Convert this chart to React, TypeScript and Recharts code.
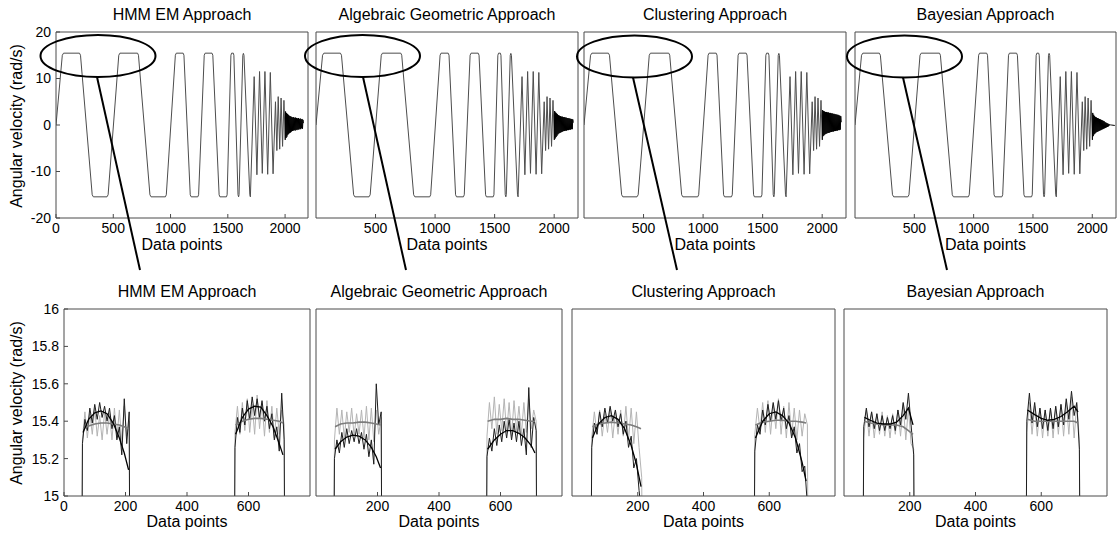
import React from 'react';
import { LineChart, Line, XAxis, YAxis } from 'recharts';

// ---------- top row: full sweep (shared), per-method tail ----------
const SWEEP_X = [
  0, 55, 66, 205, 214, 316, 326, 445, 455, 548, 558, 712, 720, 820, 830, 955, 963,
  1042, 1050, 1110, 1117, 1172, 1180, 1238, 1245, 1294, 1302, 1362, 1369, 1424, 1431,
  1488, 1494, 1527, 1533, 1548, 1553, 1589, 1594, 1598, 1631, 1636, 1641, 1692, 1697,
  1730, 1754, 1777, 1801, 1824, 1848, 1871, 1895, 1916, 1928, 1940, 1953, 1965, 1978,
  1990, 2001,
];
const SWEEP_Y = [
  0, 15.0, 15.45, 15.45, 15.0, -15.0, -15.45, -15.45, -15.0, 15.0, 15.45, 15.45, 15.0,
  -15.0, -15.45, -15.45, -15.0, 15.0, 15.45, 15.45, 15.0, -15.0, -15.45, -15.45, -15.0,
  15.0, 15.45, 15.45, 15.0, -15.0, -15.45, -15.45, -15.0, 15.0, 15.45, 15.45, 15.0,
  -15.0, -15.45, -15.0, 15.0, 15.4, 15.0, -15.0, -15.45, 10.4, -10.7, 11.5, -10.4,
  11.5, -10.6, 11.3, -10.5, 5.0, -5.5, 6.1, -5.2, 5.8, -4.6, 5.3, -3.2,
];

const TAIL_X = [
  2001, 2004, 2008, 2012, 2016, 2020, 2024, 2028, 2032, 2036, 2040, 2044, 2048, 2052,
  2056, 2060, 2064, 2068, 2072, 2076, 2080, 2084, 2088, 2092, 2096, 2100, 2104, 2108,
  2112, 2116, 2120, 2124, 2128, 2132, 2136, 2140, 2144, 2148, 2152, 2156, 2160,
];
const TAIL_HMM = [
  -3.2, 2.9, -2.8, 2.6, -2.5, 2.4, -2.1, 2.2, -1.9, 2.0, -1.7, 1.9, -1.6, 1.8, -1.4,
  1.7, -1.3, 1.6, -1.2, 1.7, -1.1, 1.5, -1.2, 1.6, -1.0, 1.5, -1.1, 1.4, -0.9, 1.5,
  -1.0, 1.3, -0.8, 1.4, -0.9, 1.2, -0.7, 1.3, -0.8, 1.1, 0.4,
];
const TAIL_ALG = [
  -3.2, 3.0, -2.9, 2.7, -2.6, 2.5, -2.3, 2.3, -2.0, 2.1, -1.8, 2.0, -1.7, 1.9, -1.6,
  1.8, -1.5, 1.8, -1.4, 1.7, -1.3, 1.7, -1.3, 1.6, -1.2, 1.6, -1.2, 1.5, -1.1, 1.5,
  -1.1, 1.4, -1.0, 1.4, -1.0, 1.3, -0.9, 1.3, -0.9, 1.2, 0.5,
];
const TAIL_CLU = [
  -3.2, 3.2, -2.4, 3.0, -2.2, 2.9, -2.0, 2.8, -1.9, 2.8, -1.8, 2.7, -1.7, 2.7, -1.7,
  2.6, -1.6, 2.6, -1.5, 2.5, -1.5, 2.5, -1.4, 2.4, -1.4, 2.4, -1.3, 2.3, -1.3, 2.3,
  -1.2, 2.2, -1.2, 2.2, -1.1, 2.1, -1.1, 2.0, -1.0, 1.9, 0.6,
];
const BAY_TAIL_X = [...TAIL_X, 2190];
const TAIL_BAY = [
  -3.2, 2.6, -2.4, 2.2, -2.0, 1.9, -1.8, 1.7, -1.6, 1.6, -1.5, 1.5, -1.4, 1.4, -1.3,
  1.3, -1.2, 1.2, -1.1, 1.1, -1.0, 1.0, -0.9, 0.9, -0.8, 0.8, -0.7, 0.6, -0.6, 0.5,
  -0.5, 0.4, -0.4, 0.3, -0.3, 0.2, -0.1, 0.1, 0.0, 0.0, 0.0, -0.1,
];

// ---------- bottom row: zoom on the two top plateaus ----------
const SEG1_X = [58, 60, 68, 76, 84, 92, 100, 108, 116, 124, 132, 140, 148, 156, 164, 172, 180, 188, 196, 204, 212, 214];
const SEG2_X = [554, 556, 564, 572, 580, 588, 596, 604, 612, 620, 628, 636, 644, 652, 660, 668, 676, 684, 692, 700, 708, 716, 718];
const FIT1_X = [62, 80, 100, 120, 140, 160, 180, 196, 210];
const FIT2_X = [558, 580, 600, 620, 640, 660, 680, 700, 712];

const HMM_GRAY_1 = [14.6, 15.30, 15.45, 15.31, 15.44, 15.33, 15.47, 15.32, 15.43, 15.30, 15.45, 15.33, 15.44, 15.30, 15.47, 15.31, 15.46, 15.29, 15.48, 15.32, 15.40, 14.6];
const HMM_BLACK_1 = [14.6, 15.28, 15.41, 15.35, 15.47, 15.39, 15.49, 15.41, 15.50, 15.42, 15.48, 15.40, 15.47, 15.36, 15.43, 15.30, 15.37, 15.22, 15.52, 15.28, 15.45, 14.6];
const HMM_GRAY_2 = [14.6, 15.34, 15.48, 15.33, 15.50, 15.35, 15.52, 15.34, 15.49, 15.33, 15.54, 15.36, 15.50, 15.32, 15.51, 15.34, 15.48, 15.31, 15.47, 15.33, 15.46, 15.38, 14.6];
const HMM_BLACK_2 = [14.6, 15.26, 15.42, 15.34, 15.47, 15.38, 15.51, 15.41, 15.53, 15.43, 15.52, 15.42, 15.51, 15.40, 15.48, 15.36, 15.44, 15.30, 15.37, 15.24, 15.55, 15.30, 14.6];
const HMM_FIT_B1 = [15.34, 15.41, 15.445, 15.455, 15.44, 15.39, 15.31, 15.23, 15.14];
const HMM_FIT_G1 = [15.36, 15.375, 15.385, 15.39, 15.39, 15.385, 15.38, 15.37, 15.36];
const HMM_FIT_B2 = [15.33, 15.42, 15.465, 15.48, 15.475, 15.43, 15.37, 15.28, 15.22];
const HMM_FIT_G2 = [15.38, 15.40, 15.41, 15.415, 15.415, 15.41, 15.405, 15.40, 15.39];

const ALG_GRAY_1 = [14.6, 15.30, 15.47, 15.33, 15.46, 15.31, 15.45, 15.34, 15.47, 15.32, 15.44, 15.33, 15.46, 15.31, 15.48, 15.30, 15.47, 15.29, 15.46, 15.33, 15.42, 14.6];
const ALG_BLACK_1 = [14.6, 15.20, 15.30, 15.23, 15.34, 15.26, 15.36, 15.28, 15.35, 15.29, 15.36, 15.28, 15.34, 15.25, 15.33, 15.21, 15.30, 15.17, 15.60, 15.38, 15.45, 14.6];
const ALG_GRAY_2 = [14.6, 15.32, 15.50, 15.36, 15.53, 15.33, 15.49, 15.35, 15.52, 15.34, 15.50, 15.32, 15.51, 15.35, 15.48, 15.33, 15.50, 15.34, 15.52, 15.36, 15.46, 15.40, 14.6];
const ALG_BLACK_2 = [14.6, 15.21, 15.31, 15.24, 15.36, 15.27, 15.38, 15.29, 15.40, 15.31, 15.41, 15.30, 15.39, 15.29, 15.40, 15.27, 15.36, 15.22, 15.58, 15.26, 15.42, 15.35, 14.6];
const ALG_FIT_B1 = [15.25, 15.29, 15.315, 15.325, 15.32, 15.30, 15.26, 15.21, 15.15];
const ALG_FIT_G1 = [15.37, 15.385, 15.39, 15.39, 15.395, 15.395, 15.39, 15.385, 15.38];
const ALG_FIT_B2 = [15.25, 15.30, 15.33, 15.35, 15.35, 15.335, 15.31, 15.27, 15.23];
const ALG_FIT_G2 = [15.40, 15.41, 15.41, 15.415, 15.41, 15.41, 15.405, 15.40, 15.40];

const CLU_GRAY_1 = [14.6, 15.31, 15.45, 15.33, 15.46, 15.32, 15.44, 15.34, 15.47, 15.31, 15.45, 15.33, 15.46, 15.32, 15.48, 15.30, 15.47, 15.28, 15.45, 15.26, 15.10, 14.6];
const CLU_BLACK_1 = [14.6, 15.26, 15.39, 15.33, 15.45, 15.37, 15.47, 15.39, 15.48, 15.40, 15.46, 15.37, 15.44, 15.33, 15.40, 15.26, 15.32, 15.15, 15.20, 15.03, 14.90, 14.6];
const CLU_GRAY_2 = [14.6, 15.33, 15.47, 15.35, 15.50, 15.34, 15.51, 15.33, 15.49, 15.36, 15.52, 15.33, 15.48, 15.31, 15.50, 15.32, 15.47, 15.30, 15.46, 15.32, 15.44, 15.38, 14.6];
const CLU_BLACK_2 = [14.6, 15.24, 15.38, 15.33, 15.46, 15.38, 15.49, 15.40, 15.50, 15.41, 15.51, 15.40, 15.47, 15.36, 15.43, 15.31, 15.37, 15.23, 15.28, 15.13, 15.16, 14.95, 14.6];
const CLU_FIT_B1 = [15.31, 15.385, 15.42, 15.43, 15.41, 15.36, 15.27, 15.17, 15.05];
const CLU_FIT_G1 = [15.37, 15.385, 15.39, 15.395, 15.39, 15.385, 15.38, 15.37, 15.36];
const CLU_FIT_B2 = [15.31, 15.40, 15.44, 15.45, 15.43, 15.39, 15.31, 15.18, 15.08];
const CLU_FIT_G2 = [15.38, 15.395, 15.40, 15.405, 15.405, 15.40, 15.40, 15.395, 15.39];

const BAY_GRAY_1 = [14.6, 15.31, 15.46, 15.32, 15.45, 15.31, 15.44, 15.33, 15.45, 15.32, 15.43, 15.31, 15.44, 15.33, 15.46, 15.32, 15.49, 15.30, 15.47, 15.28, 15.25, 14.6];
const BAY_BLACK_1 = [14.6, 15.37, 15.47, 15.37, 15.45, 15.36, 15.44, 15.35, 15.43, 15.35, 15.42, 15.36, 15.43, 15.35, 15.46, 15.38, 15.50, 15.41, 15.55, 15.38, 15.22, 14.6];
const BAY_GRAY_2 = [14.6, 15.34, 15.50, 15.33, 15.48, 15.32, 15.47, 15.31, 15.46, 15.32, 15.47, 15.31, 15.48, 15.33, 15.49, 15.32, 15.50, 15.33, 15.53, 15.31, 15.49, 15.30, 14.6];
const BAY_BLACK_2 = [14.6, 15.40, 15.55, 15.39, 15.50, 15.37, 15.47, 15.36, 15.46, 15.35, 15.47, 15.36, 15.48, 15.37, 15.49, 15.38, 15.52, 15.41, 15.56, 15.43, 15.50, 15.25, 14.6];
const BAY_FIT_B1 = [15.42, 15.405, 15.39, 15.385, 15.385, 15.395, 15.43, 15.47, 15.38];
const BAY_FIT_G1 = [15.40, 15.39, 15.385, 15.38, 15.38, 15.38, 15.37, 15.35, 15.33];
const BAY_FIT_B2 = [15.46, 15.435, 15.415, 15.405, 15.41, 15.425, 15.45, 15.48, 15.45];
const BAY_FIT_G2 = [15.41, 15.40, 15.40, 15.40, 15.40, 15.40, 15.40, 15.40, 15.39];

// ---------- ticks / labels ----------
const TITLES = ['HMM EM Approach', 'Algebraic Geometric Approach', 'Clustering Approach', 'Bayesian Approach'];
const TOP_X_TICKS = [0, 500, 1000, 1500, 2000];
const TOP_Y_TICKS = [-20, -10, 0, 10, 20];
const BOT_X_TICKS = [0, 200, 400, 600];
const BOT_Y_TICKS = [15, 15.2, 15.4, 15.6, 15.8, 16];

const FONT = 'Arial, "Liberation Sans", Helvetica, sans-serif';
const AXIS = '#4a4a4a';
const GRAY_NOISE = '#b4b4b4';
const BLACK_NOISE = '#1e1e1e';
const GRAY_FIT = '#7c7c7c';

// plot-area boxes [left, width]
const TOP_BOX = { top: 32, height: 186, cols: [[56, 252], [316, 262], [584, 262], [855, 261]] };
const BOT_BOX = { top: 309, height: 187, cols: [[64, 246], [316, 246], [572, 263], [844, 263]] };

// zoom-region markers drawn on the top row
const MARKERS = [
  { cx: 98, cy: 56, x1: 97, x2: 140 },
  { cx: 362.5, cy: 56, x1: 363, x2: 406 },
  { cx: 634.5, cy: 56.5, x1: 633, x2: 677 },
  { cx: 904.5, cy: 56.5, x1: 903, x2: 947 },
];

const pts = (xs: number[], ys: number[]) => xs.map((x, i) => ({ x, y: ys[i] }));

type Trace = { key: string; xs: number[]; ys: number[]; color: string; width?: number };

interface PanelProps {
  left: number;
  top: number;
  width: number;
  height: number;
  xDomain: [number, number];
  yDomain: [number, number];
  xTicks: number[];
  yTicks: number[];
  yLabels: boolean;
  traces: Trace[];
}

function Panel(p: PanelProps) {
  const padL = 48;
  const padR = 2;
  const padT = 10;
  const padB = 28;
  const tickStyle = { fontSize: 14, fill: '#000', fontFamily: FONT };
  return (
    <div style={{ position: 'absolute', left: p.left - padL, top: p.top - padT }}>
      <LineChart
        width={p.width + padL + padR}
        height={p.height + padT + padB}
        margin={{ top: padT - 1, right: padR - 1, bottom: 0, left: 0 }}
      >
        <XAxis
          xAxisId="b"
          type="number"
          dataKey="x"
          domain={p.xDomain}
          ticks={p.xTicks}
          interval={0}
          height={padB}
          tickSize={-4}
          tickMargin={9}
          stroke={AXIS}
          tick={tickStyle}
          allowDataOverflow
        />
        <XAxis
          xAxisId="t"
          orientation="top"
          type="number"
          dataKey="x"
          domain={p.xDomain}
          ticks={p.xTicks}
          interval={0}
          height={1}
          tickSize={-4}
          tick={false}
          stroke={AXIS}
          allowDataOverflow
        />
        <YAxis
          yAxisId="l"
          type="number"
          domain={p.yDomain}
          ticks={p.yTicks}
          interval={0}
          width={padL}
          tickSize={-4}
          tickMargin={9}
          stroke={AXIS}
          tick={p.yLabels ? tickStyle : false}
          tickFormatter={(v: number) => String(v)}
          allowDataOverflow
        />
        <YAxis
          yAxisId="r"
          orientation="right"
          type="number"
          domain={p.yDomain}
          ticks={p.yTicks}
          interval={0}
          width={1}
          tickSize={-4}
          tick={false}
          stroke={AXIS}
          allowDataOverflow
        />
        {p.traces.map((t) => (
          <Line
            key={t.key}
            xAxisId="b"
            yAxisId="l"
            data={pts(t.xs, t.ys)}
            dataKey="y"
            type="linear"
            stroke={t.color}
            strokeWidth={t.width ?? 1}
            dot={false}
            isAnimationActive={false}
          />
        ))}
      </LineChart>
    </div>
  );
}

const topTraces = (tailX: number[], tail: number[]): Trace[] => [
  { key: 'sweep', xs: SWEEP_X, ys: SWEEP_Y, color: '#4d4d4d' },
  { key: 'tail', xs: tailX, ys: tail, color: '#000' },
];

const zoomTraces = (g1: number[], b1: number[], g2: number[], b2: number[], fb1: number[], fg1: number[], fb2: number[], fg2: number[]): Trace[] => [
  { key: 'g1', xs: SEG1_X, ys: g1, color: GRAY_NOISE },
  { key: 'g2', xs: SEG2_X, ys: g2, color: GRAY_NOISE },
  { key: 'b1', xs: SEG1_X, ys: b1, color: BLACK_NOISE },
  { key: 'b2', xs: SEG2_X, ys: b2, color: BLACK_NOISE },
  { key: 'fg1', xs: FIT1_X, ys: fg1, color: GRAY_FIT, width: 1.6 },
  { key: 'fg2', xs: FIT2_X, ys: fg2, color: GRAY_FIT, width: 1.6 },
  { key: 'fb1', xs: FIT1_X, ys: fb1, color: '#000', width: 1.3 },
  { key: 'fb2', xs: FIT2_X, ys: fb2, color: '#000', width: 1.3 },
];

const TOP_SERIES = [
  topTraces(TAIL_X, TAIL_HMM),
  topTraces(TAIL_X, TAIL_ALG),
  topTraces(TAIL_X, TAIL_CLU),
  topTraces(BAY_TAIL_X, TAIL_BAY),
];

const BOT_SERIES = [
  zoomTraces(HMM_GRAY_1, HMM_BLACK_1, HMM_GRAY_2, HMM_BLACK_2, HMM_FIT_B1, HMM_FIT_G1, HMM_FIT_B2, HMM_FIT_G2),
  zoomTraces(ALG_GRAY_1, ALG_BLACK_1, ALG_GRAY_2, ALG_BLACK_2, ALG_FIT_B1, ALG_FIT_G1, ALG_FIT_B2, ALG_FIT_G2),
  zoomTraces(CLU_GRAY_1, CLU_BLACK_1, CLU_GRAY_2, CLU_BLACK_2, CLU_FIT_B1, CLU_FIT_G1, CLU_FIT_B2, CLU_FIT_G2),
  zoomTraces(BAY_GRAY_1, BAY_BLACK_1, BAY_GRAY_2, BAY_BLACK_2, BAY_FIT_B1, BAY_FIT_G1, BAY_FIT_B2, BAY_FIT_G2),
];

export default function App() {
  return (
    <div
      style={{
        position: 'absolute',
        left: 0,
        top: 0,
        width: 1118,
        height: 539,
        background: '#fff',
        overflow: 'hidden',
        fontFamily: FONT,
      }}
    >
      {TOP_BOX.cols.map(([left, width], i) => (
        <Panel
          key={`top-${i}`}
          left={left}
          top={TOP_BOX.top}
          width={width}
          height={TOP_BOX.height}
          xDomain={[0, 2200]}
          yDomain={[-20, 20]}
          xTicks={i === 0 ? TOP_X_TICKS : TOP_X_TICKS.slice(1)}
          yTicks={TOP_Y_TICKS}
          yLabels={i === 0}
          traces={TOP_SERIES[i]}
        />
      ))}
      {BOT_BOX.cols.map(([left, width], i) => (
        <Panel
          key={`bot-${i}`}
          left={left}
          top={BOT_BOX.top}
          width={width}
          height={BOT_BOX.height}
          xDomain={[0, 800]}
          yDomain={[15, 16]}
          xTicks={i === 0 ? BOT_X_TICKS : BOT_X_TICKS.slice(1)}
          yTicks={BOT_Y_TICKS}
          yLabels={i === 0}
          traces={BOT_SERIES[i]}
        />
      ))}

      {/* titles, axis labels and zoom markers */}
      <svg width={1118} height={539} style={{ position: 'absolute', left: 0, top: 0, pointerEvents: 'none' }}>
        <g fontFamily={FONT} fontSize={16} fill="#000" textAnchor="middle">
          {TOP_BOX.cols.map(([left, width], i) => (
            <g key={`tl-${i}`}>
              <text x={left + width / 2} y={20}>{TITLES[i]}</text>
              <text x={left + width / 2} y={250}>Data points</text>
            </g>
          ))}
          {BOT_BOX.cols.map(([left, width], i) => (
            <g key={`bl-${i}`}>
              <text x={left + width / 2} y={297}>{TITLES[i]}</text>
              <text x={left + width / 2} y={527}>Data points</text>
            </g>
          ))}
          <text x={22} y={126} transform="rotate(-90 22 126)">Angular velocity (rad/s)</text>
          <text x={22} y={403} transform="rotate(-90 22 403)">Angular velocity (rad/s)</text>
        </g>
        <g stroke="#000" strokeWidth={2} fill="none">
          {MARKERS.map((m, i) => (
            <g key={`m-${i}`}>
              <ellipse cx={m.cx} cy={m.cy} rx={57.5} ry={21} />
              <line x1={m.x1} y1={m.cy + 21} x2={m.x2} y2={270} />
            </g>
          ))}
        </g>
      </svg>
    </div>
  );
}
